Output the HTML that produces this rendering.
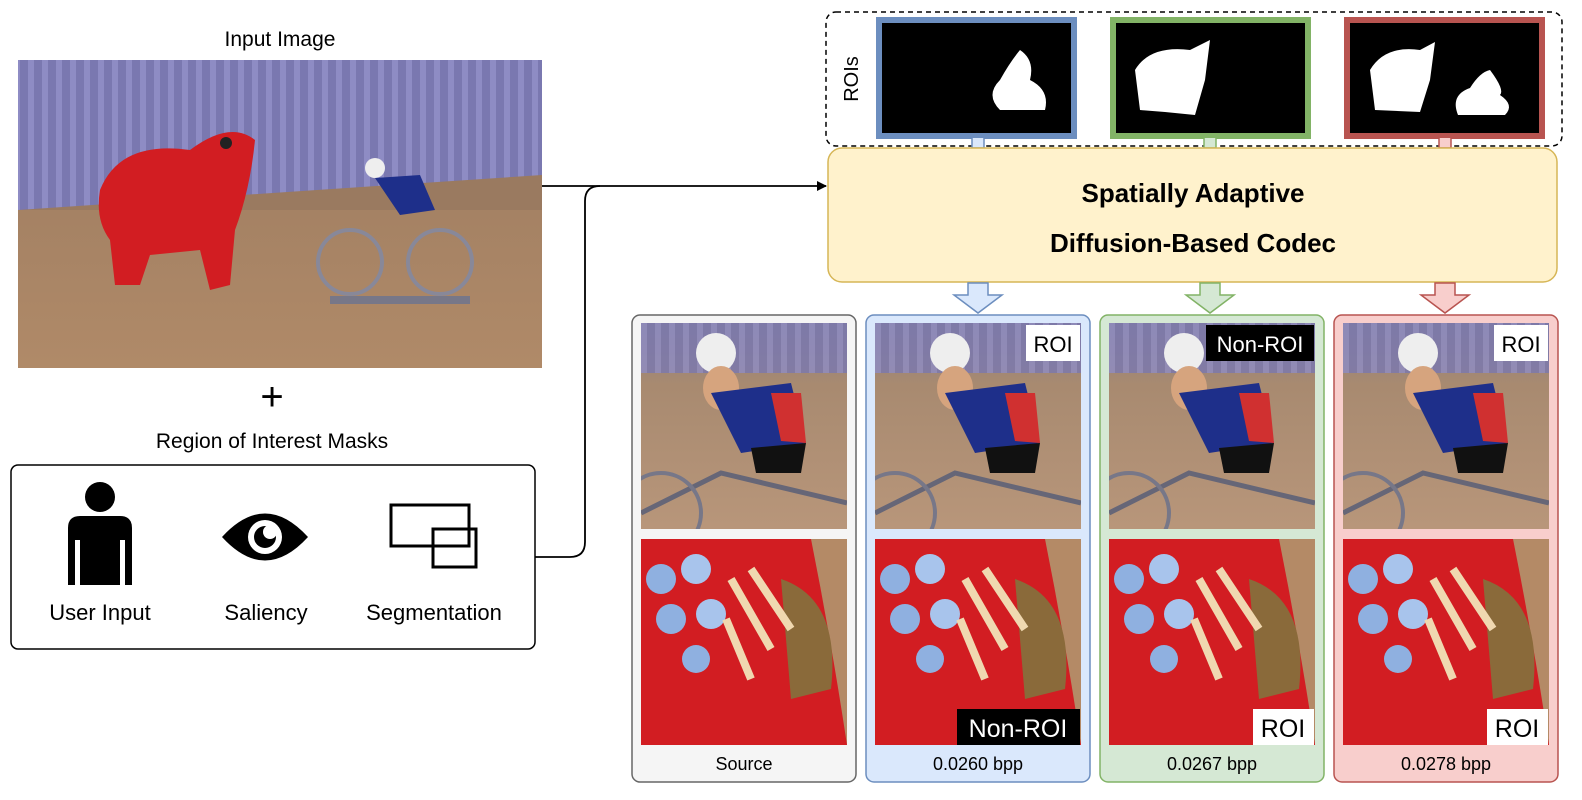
<!DOCTYPE html>
<html><head><meta charset="utf-8"><style>
html,body{margin:0;padding:0;background:#fff;width:1582px;height:800px;overflow:hidden}
text{font-family:"Liberation Sans","DejaVu Sans",sans-serif}
</style></head><body>
<svg width="1582" height="800" viewBox="0 0 1582 800" xmlns="http://www.w3.org/2000/svg">
<defs>
<pattern id="stripes" width="14" height="10" patternUnits="userSpaceOnUse">
<rect width="14" height="10" fill="#7a78b0"/><rect width="6" height="10" fill="#8e8cc4"/></pattern>
<linearGradient id="wood" x1="0" y1="0" x2="0" y2="1"><stop offset="0" stop-color="#9a7a60"/><stop offset="1" stop-color="#b08a68"/></linearGradient>
<linearGradient id="woodc" x1="0" y1="0" x2="0" y2="1"><stop offset="0" stop-color="#8b7f86"/><stop offset="0.3" stop-color="#a88a70"/><stop offset="1" stop-color="#b8967a"/></linearGradient>
<clipPath id="cc"><rect width="206" height="206"/></clipPath>
<marker id="ah" markerWidth="10" markerHeight="10" refX="9" refY="5" orient="auto" markerUnits="userSpaceOnUse"><path d="M0,0 L10,5 L0,10 z" fill="#000"/></marker>
<g id="topcrop" clip-path="url(#cc)">
<rect width="206" height="206" fill="url(#woodc)"/>
<rect width="206" height="50" fill="url(#stripes)" opacity="0.8"/>
<circle cx="75" cy="30" r="20" fill="#eee"/>
<ellipse cx="80" cy="65" rx="18" ry="22" fill="#d6a47e"/>
<path d="M70,70 L150,60 L165,120 L100,130 z" fill="#1e2f8a"/>
<path d="M130,70 L160,70 L165,120 L140,118z" fill="#d03030"/>
<path d="M110,125 L165,120 L160,150 L115,150z" fill="#111"/>
<path d="M0,190 L80,150 L206,180" stroke="#667" stroke-width="5" fill="none"/>
<circle cx="20" cy="190" r="40" stroke="#778" stroke-width="4" fill="none"/>
</g>
<g id="botcrop" clip-path="url(#cc)">
<rect width="206" height="206" fill="#b48a66"/>
<path d="M0,0 H170 Q190,100 206,206 H0z" fill="#d21d22"/>
<path d="M140,40 Q200,60 190,150 L150,160z" fill="#8a6a3a"/>
<circle cx="20" cy="40" r="15" fill="#8fb0e0"/><circle cx="55" cy="30" r="15" fill="#a8c4ec"/>
<circle cx="30" cy="80" r="15" fill="#8fb0e0"/><circle cx="70" cy="75" r="15" fill="#a8c4ec"/>
<circle cx="55" cy="120" r="14" fill="#8fb0e0"/>
<path d="M90,40 L130,110 M110,30 L150,90 M85,80 L110,140" stroke="#f0d8b0" stroke-width="8"/>
</g>
</defs>

<text x="280" y="46" font-size="21" text-anchor="middle">Input Image</text>
<rect x="18" y="60" width="524" height="308" fill="url(#wood)"/>
<rect x="18" y="60" width="524" height="150" fill="url(#stripes)"/>
<path d="M18,210 L542,175 L542,210z" fill="#9a7a60"/>
<path d="M100,190 Q120,140 190,150 Q230,120 255,140 Q250,190 235,230 L230,285 L210,290 L200,250 L150,255 L140,285 L115,285 L110,240 Q95,220 100,190z" fill="#d21d22"/>
<circle cx="226" cy="143" r="6" fill="#222"/>
<circle cx="375" cy="168" r="10" fill="#eee"/>
<path d="M375,178 L420,175 L435,210 L400,215z" fill="#1e2f8a"/>
<circle cx="350" cy="262" r="32" stroke="#889" stroke-width="4" fill="none"/>
<circle cx="440" cy="262" r="32" stroke="#889" stroke-width="4" fill="none"/>
<path d="M330,300 L470,300" stroke="#778" stroke-width="8"/>

<text x="272" y="410" font-size="40" text-anchor="middle">+</text>
<text x="272" y="448" font-size="21" text-anchor="middle">Region of Interest Masks</text>
<rect x="11" y="465" width="524" height="184" rx="7" fill="#fff" stroke="#000" stroke-width="1.5"/>
<circle cx="100" cy="497" r="15" fill="#000"/>
<path d="M68,585 V528 Q68,516 80,516 H120 Q132,516 132,528 V585 H125 V540 H120 V585 H80 V540 H75 V585z" fill="#000"/>
<path d="M222,537 Q265,490 308,537 Q265,584 222,537z" fill="#000"/>
<circle cx="265" cy="537" r="17" fill="#fff"/><circle cx="265" cy="537" r="11" fill="#000"/>
<circle cx="270" cy="532" r="7" fill="#fff"/>
<rect x="391" y="505" width="78" height="41" fill="none" stroke="#000" stroke-width="3"/>
<rect x="433" y="529" width="43" height="38" fill="none" stroke="#000" stroke-width="3"/>
<text x="100" y="620" font-size="22" text-anchor="middle">User Input</text>
<text x="266" y="620" font-size="22" text-anchor="middle">Saliency</text>
<text x="434" y="620" font-size="22" text-anchor="middle">Segmentation</text>

<path d="M542,186 H826" stroke="#000" stroke-width="1.8" fill="none" marker-end="url(#ah)"/>
<path d="M535,557 H570 Q585,557 585,542 V201 Q585,186 600,186" stroke="#000" stroke-width="1.8" fill="none"/>

<rect x="826" y="12" width="736" height="134" rx="10" fill="#fff" stroke="#000" stroke-width="1.5" stroke-dasharray="5,4"/>
<text transform="translate(858,79) rotate(-90)" font-size="20" text-anchor="middle">ROIs</text>
<rect x="879" y="20" width="195" height="116" fill="#000" stroke="#6c8ebf" stroke-width="6"/>
<path d="M1000,110 Q985,95 1000,80 Q1010,62 1020,50 Q1035,60 1030,80 Q1050,90 1045,110z" fill="#fff"/>
<rect x="1113" y="20" width="195" height="116" fill="#000" stroke="#82b366" stroke-width="6"/>
<path d="M1140,110 L1135,70 Q1150,45 1190,50 L1210,40 L1205,80 L1195,115 L1165,112z" fill="#fff"/>
<rect x="1347" y="20" width="195" height="116" fill="#000" stroke="#b85450" stroke-width="6"/>
<path d="M1375,110 L1370,70 Q1385,45 1420,50 L1435,42 L1430,80 L1420,112z" fill="#fff"/>
<path d="M1458,115 Q1450,95 1470,88 Q1480,72 1490,70 Q1505,90 1500,95 Q1515,105 1505,115z" fill="#fff"/>
<path d="M972,138 V148 H984 V138" fill="#dae8fc" stroke="#6c8ebf" stroke-width="1.5"/>
<path d="M1204,138 V148 H1216 V138" fill="#d5e8d4" stroke="#82b366" stroke-width="1.5"/>
<path d="M1439,138 V148 H1451 V138" fill="#f8cecc" stroke="#b85450" stroke-width="1.5"/>

<rect x="828" y="148" width="729" height="134" rx="14" fill="#fff2cc" stroke="#d6b656" stroke-width="1.5"/>
<text x="1193" y="202" font-size="26" font-weight="bold" text-anchor="middle">Spatially Adaptive</text>
<text x="1193" y="252" font-size="26" font-weight="bold" text-anchor="middle">Diffusion-Based Codec</text>

<path d="M968,283 H988 V295 H1002 L978,313 L954,295 H968z" fill="#dae8fc" stroke="#6c8ebf" stroke-width="1.5"/>
<path d="M1200,283 H1220 V295 H1234 L1210,313 L1186,295 H1200z" fill="#d5e8d4" stroke="#82b366" stroke-width="1.5"/>
<path d="M1435,283 H1455 V295 H1469 L1445,313 L1421,295 H1435z" fill="#f8cecc" stroke="#b85450" stroke-width="1.5"/>

<rect x="632" y="315" width="224" height="467" rx="8" fill="#f5f5f5" stroke="#666" stroke-width="1.5"/>
<rect x="866" y="315" width="224" height="467" rx="8" fill="#dae8fc" stroke="#6c8ebf" stroke-width="1.5"/>
<rect x="1100" y="315" width="224" height="467" rx="8" fill="#d5e8d4" stroke="#82b366" stroke-width="1.5"/>
<rect x="1334" y="315" width="224" height="467" rx="8" fill="#f8cecc" stroke="#b85450" stroke-width="1.5"/>
<use href="#topcrop" x="641" y="323"/><use href="#botcrop" x="641" y="539"/>
<use href="#topcrop" x="875" y="323"/><use href="#botcrop" x="875" y="539"/>
<use href="#topcrop" x="1109" y="323"/><use href="#botcrop" x="1109" y="539"/>
<use href="#topcrop" x="1343" y="323"/><use href="#botcrop" x="1343" y="539"/>
<text x="744" y="770" font-size="18" text-anchor="middle">Source</text>
<text x="978" y="770" font-size="18" text-anchor="middle">0.0260 bpp</text>
<text x="1212" y="770" font-size="18" text-anchor="middle">0.0267 bpp</text>
<text x="1446" y="770" font-size="18" text-anchor="middle">0.0278 bpp</text>

<rect x="1026" y="325" width="54" height="36" fill="#fff"/><text x="1053" y="352" font-size="22" text-anchor="middle">ROI</text>
<rect x="1206" y="325" width="108" height="36" fill="#000"/><text x="1260" y="352" font-size="22" fill="#fff" text-anchor="middle">Non-ROI</text>
<rect x="1494" y="325" width="54" height="36" fill="#fff"/><text x="1521" y="352" font-size="22" text-anchor="middle">ROI</text>
<rect x="957" y="709" width="123" height="36" fill="#000"/><text x="1018" y="737" font-size="25" fill="#fff" text-anchor="middle">Non-ROI</text>
<rect x="1253" y="709" width="61" height="36" fill="#fff"/><text x="1283" y="737" font-size="25" text-anchor="middle">ROI</text>
<rect x="1487" y="709" width="61" height="36" fill="#fff"/><text x="1517" y="737" font-size="25" text-anchor="middle">ROI</text>
</svg>
</body></html>
